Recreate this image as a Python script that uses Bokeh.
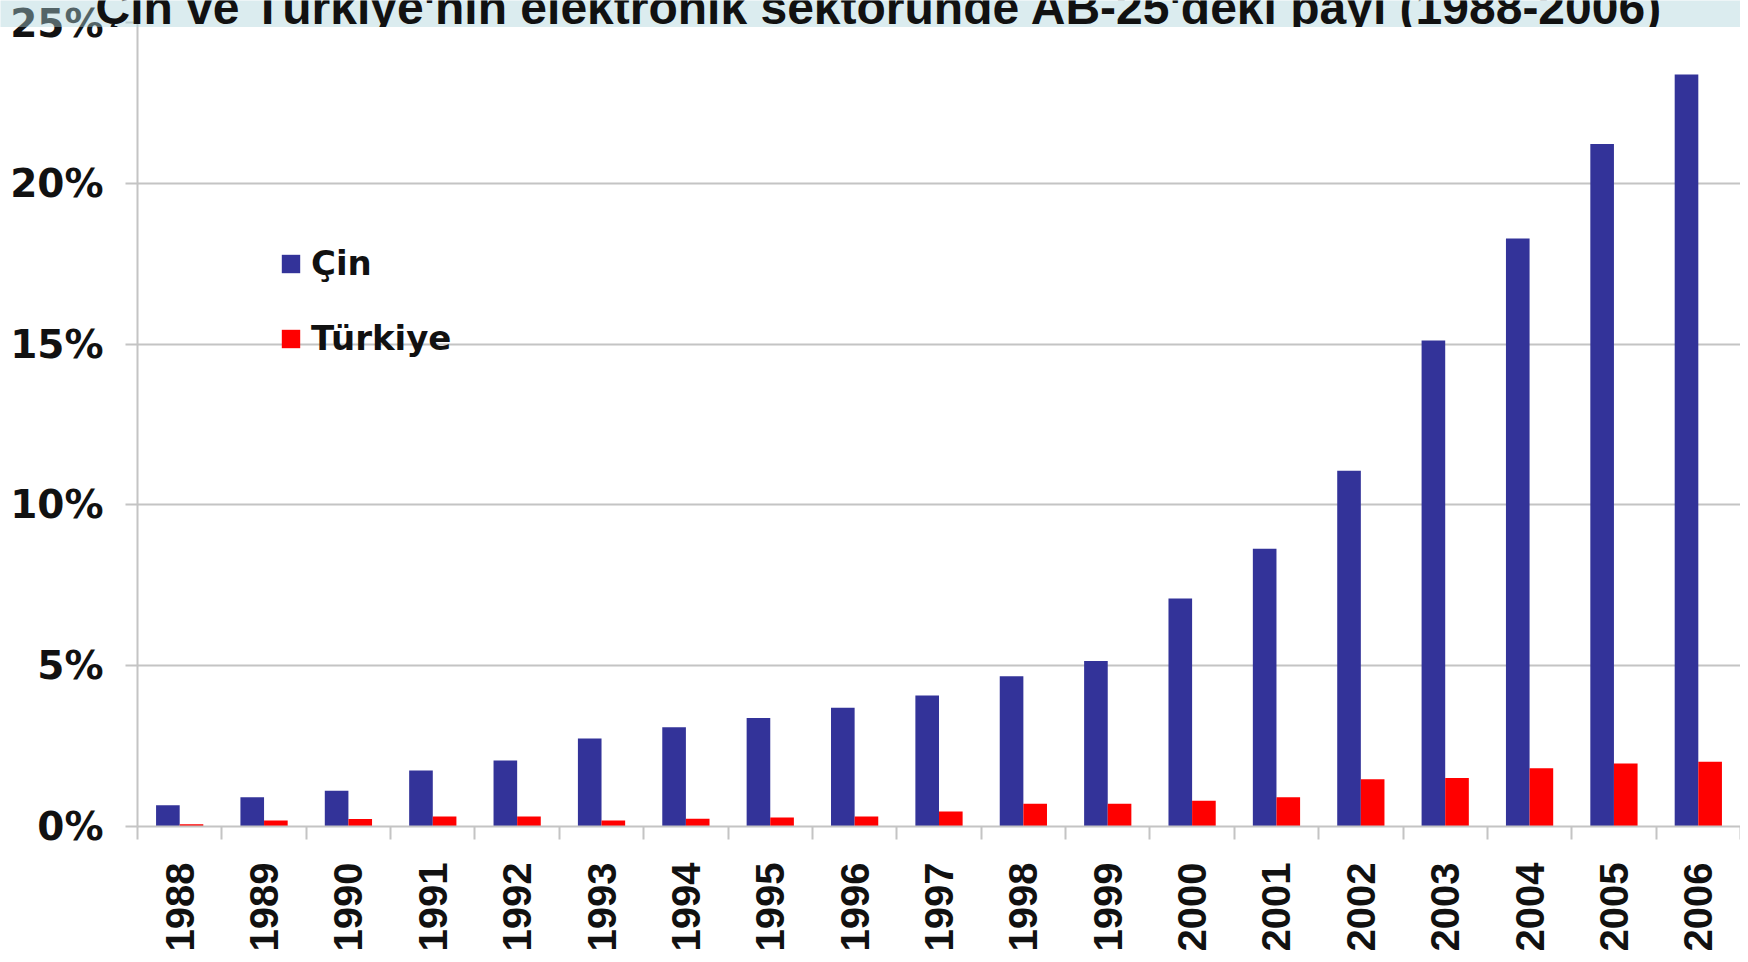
from math import pi
from bokeh.plotting import figure
from bokeh.models import (Range1d, FixedTicker, PrintfTickFormatter, Legend, LegendItem,
                          Label, ColumnDataSource)
from bokeh.transform import dodge
from bokeh.embed import file_html
from bokeh.resources import INLINE

# ---- data ----
years = [str(y) for y in range(1988, 2007)]
china = [0.66, 0.91, 1.11, 1.74, 2.05, 2.74, 3.09, 3.37, 3.69, 4.07,
         4.67, 5.15, 7.09, 8.64, 11.06, 15.11, 18.28, 21.22, 23.38]
turkey = [0.07, 0.19, 0.23, 0.31, 0.31, 0.19, 0.24, 0.28, 0.31, 0.47,
          0.71, 0.71, 0.80, 0.91, 1.47, 1.51, 1.81, 1.96, 2.01]
y_ticks = [0, 5, 10, 15, 20, 25]
series_names = ["Çin", "Türkiye"]
title_text = "Çin ve Türkiye'nin elektronik sektöründe AB-25'deki payı (1988-2006)"

idx = list(range(len(years)))
src = ColumnDataSource(dict(idx=idx, year=years, china=china, turkey=turkey))

W, H = 1740, 954
BAND_H = 27

# ---- title band (its top is cut by the page edge, as in the source) ----
band = figure(width=W, height=BAND_H, output_backend="svg", toolbar_location=None,
              x_range=Range1d(0, W), y_range=Range1d(0, BAND_H),
              x_axis_type=None, y_axis_type=None,
              min_border=0, min_border_left=0, min_border_right=0,
              min_border_top=0, min_border_bottom=0)
band.outline_line_color = None
band.grid.visible = False
band.background_fill_color = "#acd3da"
band.background_fill_alpha = 0.43
band.border_fill_alpha = 0
band.add_layout(Label(x=95, y=20, text=title_text, text_font="Liberation Sans",
                      text_font_style="bold", text_font_size="48px", text_color="#111111",
                      text_baseline="alphabetic", text_align="left"))
band.styles = {"z-index": "10", "position": "relative"}

# ---- main chart ----
p = figure(width=W, height=H, output_backend="svg", toolbar_location=None,
           x_range=Range1d(-0.5, len(years) - 0.5), y_range=Range1d(0, y_ticks[-1]),
           min_border_left=137, min_border_right=0,
           min_border_top=22, min_border_bottom=125)
p.margin = (-BAND_H, 0, 0, 0)
p.outline_line_color = None
p.background_fill_color = "white"
p.border_fill_color = "white"

r1 = p.vbar(x=dodge('idx', -0.14, range=p.x_range), top='china', bottom=0, width=0.28,
            source=src, fill_color="#333399", line_color=None)
r2 = p.vbar(x=dodge('idx', 0.14, range=p.x_range), top='turkey', bottom=0, width=0.28,
            source=src, fill_color="#ff0000", line_color=None)

grey = "#c4c4c4"

# x axis
xa = p.xaxis[0]
xa.ticker = FixedTicker(ticks=idx, minor_ticks=[i - 0.5 for i in range(len(years) + 1)])
xa.major_label_overrides = {i: y for i, y in enumerate(years)}
xa.major_label_orientation = pi / 2
xa.major_tick_out = 0
xa.major_tick_in = 0
xa.minor_tick_out = 13
xa.minor_tick_in = 0
xa.minor_tick_line_color = grey
xa.minor_tick_line_width = 2
xa.axis_line_color = grey
xa.axis_line_width = 2
xa.major_label_standoff = 23
xa.major_label_text_font = "Liberation Sans"
xa.major_label_text_font_style = "bold"
xa.major_label_text_font_size = "40px"
xa.major_label_text_color = "#111111"

# y axis
ya = p.yaxis[0]
ya.ticker = FixedTicker(ticks=y_ticks)
ya.formatter = PrintfTickFormatter(format="%d%%")
ya.major_tick_out = 12
ya.major_tick_in = 0
ya.major_tick_line_color = grey
ya.major_tick_line_width = 2
ya.minor_tick_line_color = None
ya.axis_line_color = grey
ya.axis_line_width = 2
ya.major_label_standoff = 22
ya.major_label_text_font = "DejaVu Sans"
ya.major_label_text_font_style = "bold"
ya.major_label_text_font_size = "39px"
ya.major_label_text_color = "#111111"

p.xgrid.grid_line_color = None
p.ygrid.grid_line_color = grey
p.ygrid.grid_line_width = 2

# legend
legend = Legend(items=[LegendItem(label=series_names[0], renderers=[r1]),
                       LegendItem(label=series_names[1], renderers=[r2])],
                location=(142, 468), orientation="vertical",
                glyph_width=23, glyph_height=23, label_standoff=9, spacing=35,
                padding=0, margin=0, border_line_color=None, background_fill_alpha=0,
                label_text_font="DejaVu Sans", label_text_font_style="bold",
                label_text_font_size="34px", label_text_color="#111111")
p.add_layout(legend)

open("out.html", "w").write(file_html([band, p], INLINE))
